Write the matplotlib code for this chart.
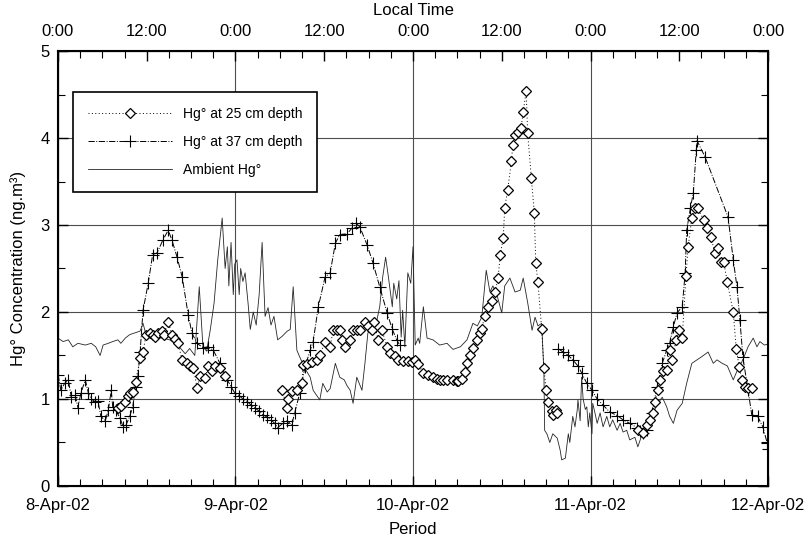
import numpy as np
import matplotlib
matplotlib.use('Agg')
import matplotlib.pyplot as plt
from matplotlib.ticker import MultipleLocator

plt.rcParams['font.family'] = ['Liberation Sans', 'DejaVu Sans']

# hours since 8-Apr-02 0:00
amb_t = [0.0, 0.7, 1.4, 2.0, 2.7, 3.7, 4.5, 5.1, 5.7, 6.1, 6.8, 7.4, 8.1, 8.5, 9.1, 9.7, 10.4, 11.1, 11.5, 11.9,
         12.4, 13.1, 14.1, 15.1, 16.2, 17.2, 17.8, 18.5, 19.1, 19.6, 20.1, 20.6, 21.1, 21.6, 22.2, 22.6, 22.9, 23.1,
         23.4, 23.7, 23.9, 24.2, 24.5, 24.7, 25.0, 25.3, 25.7, 26.0, 26.4, 26.8, 27.2, 27.6, 28.0, 28.4, 28.8, 29.2,
         29.7, 30.3, 31.0, 31.4, 31.8, 32.3, 32.7, 33.4, 34.1, 34.5, 34.9, 35.4, 35.8, 36.4, 36.8, 37.5, 38.1, 38.7,
         39.1, 39.5, 39.9, 40.4, 41.1, 41.5, 41.9, 42.6, 43.1, 43.5, 43.9, 44.3, 44.6, 45.2, 45.4, 45.8, 46.1, 46.4,
         46.6, 46.9, 47.3, 47.7, 48.0, 48.3, 48.7, 48.9, 49.4, 49.9, 50.7, 51.6, 52.6, 53.4, 54.4, 55.3, 56.1, 56.7,
         57.3, 57.9, 58.4, 58.8, 59.4, 60.0, 60.4, 61.1, 61.8, 62.5, 62.9, 63.5, 64.1, 64.5, 64.9, 65.4, 65.7, 65.8,
         66.1, 66.5, 66.9, 67.5, 67.9, 68.1, 68.6, 69.0, 69.2, 69.6, 69.9, 70.2, 70.3, 70.6, 70.8, 71.0, 71.3, 71.5,
         71.7, 71.9, 72.2, 72.3, 72.6, 72.9, 73.3, 73.7, 74.2, 74.6, 75.0, 75.6, 76.0, 76.4, 76.9, 77.3, 78.0, 78.4,
         79.0, 79.6, 80.3, 80.7, 81.1, 81.7, 82.3, 82.7, 83.2, 83.7, 84.4, 85.0, 85.7, 86.4, 87.1, 87.9, 88.6, 89.1,
         89.8, 90.5, 91.3, 91.9, 92.6, 93.3, 94.0, 94.5, 94.9, 95.5, 96.0]
amb_v = [1.70, 1.66, 1.68, 1.60, 1.64, 1.62, 1.64, 1.60, 1.50, 1.62, 1.64, 1.66, 1.68, 1.64, 1.70, 1.74, 1.76, 1.78,
         1.87, 1.74, 1.78, 1.72, 1.70, 1.68, 1.62, 1.52, 1.58, 1.50, 2.29, 1.60, 1.55, 1.80, 2.10, 2.60, 3.08, 2.50,
         2.75, 2.30, 2.80, 2.20, 2.55, 2.60, 2.20, 2.50, 2.35, 2.45, 2.10, 1.80, 2.00, 1.85, 2.20, 2.80, 1.95, 2.05,
         1.85, 1.95, 1.68, 1.72, 1.78, 1.80, 2.29, 1.56, 1.48, 1.35, 1.25, 1.10, 1.05, 0.99, 1.18, 1.08, 1.12, 1.41,
         1.25, 1.22, 1.15, 1.10, 0.95, 1.25, 1.10, 1.41, 1.76, 1.79, 1.90, 2.06, 2.40, 2.63, 2.45, 2.06, 2.33, 2.15,
         2.36, 1.71, 2.02, 1.60, 2.45, 2.33, 2.75, 1.62, 1.70, 1.64, 2.06, 1.70, 1.68, 1.62, 1.64, 1.57, 1.60, 1.68,
         1.87, 1.84, 1.94, 2.48, 2.23, 2.30, 2.18, 1.99, 2.30, 2.39, 2.23, 2.25, 2.39, 2.11, 1.79, 1.94, 1.84, 1.87,
         1.30, 0.64, 0.60, 0.50, 0.60, 0.55, 0.41, 0.30, 0.32, 0.60, 0.50, 0.80, 0.68, 0.87, 0.99, 0.75, 1.25, 1.00,
         0.88, 0.91, 0.68, 0.84, 0.60, 0.95, 0.84, 0.72, 0.84, 0.68, 0.80, 0.68, 0.76, 0.64, 0.72, 0.62, 0.64, 0.53,
         0.56, 0.45, 0.60, 0.68, 0.80, 0.88, 0.95, 1.02, 0.91, 0.80, 0.72, 0.87, 0.95, 1.18, 1.41, 1.45, 1.49, 1.54,
         1.41, 1.45, 1.41, 1.38, 1.22, 1.34, 1.45, 1.60, 1.70, 1.60, 1.66, 1.62, 1.63]

# 37 cm depth (NaN = gap in record)
d37_t = [0.0, 0.4, 0.9, 1.4, 1.8, 2.3, 2.7, 3.1, 3.7, 4.1, 4.5, 5.0, 5.4, 5.8, 6.4, 6.8, 7.2, 7.4, 7.8, 8.4, 8.8,
         9.2, 9.7, 10.1, 10.5, 10.8, 11.1, 11.5, 12.2, 12.8, 13.4, 14.2, 14.9, 15.4, 16.1, 16.8, 17.6, 18.1, 18.8,
         19.6, 20.3, 21.0, 21.9, 22.9, 23.4, 23.9, 24.5, 25.0, 25.6, 26.1, 26.6, 27.2, 27.7, 28.3, 28.8, 29.3, 29.7,
         30.4, 31.0, 31.6, 32.0, 32.7, 33.4, 34.1, 34.5, 35.2, 36.1, 36.8, 37.5, 38.1, 39.1, 39.8, 40.3, 40.8, 41.8,
         42.6, 43.5, 44.5, 45.2, 45.8, 46.2, 57.0,
         67.6, 68.3, 69.0, 69.6, 70.3, 70.8, 71.5, 72.2, 72.9, 73.7, 74.6, 75.6, 76.4, 77.3, 78.3, 78.7, 79.1, 79.6,
         80.3, 81.0, 81.7, 82.3, 82.7, 83.2, 83.7, 84.4, 84.8, 85.0, 85.5, 85.9, 86.3, 86.4, 87.5, 90.6, 91.3, 91.8,
         92.2, 92.6, 93.3, 93.8, 94.6, 95.3, 95.9, 96.0]
d37_v = [1.28, 1.10, 1.18, 1.22, 1.02, 1.05, 0.90, 1.07, 1.22, 1.07, 1.00, 0.97, 0.98, 0.80, 0.75, 0.87, 1.10, 0.91,
         0.87, 0.78, 0.68, 0.70, 0.80, 0.91, 1.14, 1.26, 1.54, 2.02, 2.33, 2.66, 2.68, 2.83, 2.94, 2.83, 2.63, 2.40,
         1.97, 1.76, 1.64, 1.59, 1.60, 1.56, 1.41, 1.22, 1.14, 1.07, 1.04, 1.00, 0.97, 0.93, 0.90, 0.86, 0.82, 0.79,
         0.76, 0.72, 0.67, 0.72, 0.75, 0.70, 0.84, 1.07, 1.37, 1.56, 1.66, 2.06, 2.40, 2.45, 2.79, 2.89, 2.90, 2.97,
         3.02, 2.98, 2.77, 2.56, 2.29, 1.99, 1.80, 1.68, 1.62, np.nan,
         1.58, 1.54, 1.50, 1.45, 1.38, 1.30, 1.18, 1.10, 1.00, 0.93, 0.85, 0.81, 0.76, 0.72, 0.67, 0.63, 0.61, 0.64,
         0.84, 1.14, 1.41, 1.56, 1.64, 1.83, 1.99, 2.06, 2.45, 2.94, 3.19, 3.37, 3.86, 3.97, 3.78, 3.09, 2.60, 2.29,
         1.91, 1.48, 1.10, 0.82, 0.80, 0.68, 0.49, 0.42]

# 25 cm depth (NaN = gap in record)
d25_t = [8.1, 8.5, 9.1, 9.5, 9.7, 10.1, 10.5, 11.1, 11.5, 11.9, 12.4, 12.8, 13.1, 13.5, 14.1, 14.3, 14.9, 15.4, 15.8,
         16.2, 16.8, 17.4, 17.8, 18.3, 18.8, 19.2, 19.9, 20.3, 20.8, 21.2, 21.9, 22.6, 26.0,
         30.3, 31.0, 31.1, 31.6, 32.3, 33.0, 33.1, 33.7, 34.3, 35.0, 35.4, 36.1, 36.8, 37.2, 37.7, 38.1, 38.4, 38.8,
         39.5, 39.9, 40.4, 40.8, 41.5, 41.9, 42.5, 42.7, 43.3, 43.8, 44.5, 44.9, 45.6, 46.0, 46.6, 47.3, 47.9, 48.3,
         48.7, 49.4, 50.0, 50.7, 51.2, 51.6, 52.1, 52.6, 53.4, 53.9, 54.1, 54.6, 55.0, 55.3, 55.7, 56.1, 56.7, 57.1,
         57.3, 57.7, 58.1, 58.7, 59.1, 59.5, 59.8, 60.2, 60.4, 60.8, 61.3, 61.5, 61.8, 62.2, 62.6, 62.9, 63.3, 63.5,
         64.0, 64.4, 64.6, 64.9, 65.4, 65.7, 66.0, 66.3, 66.8, 66.9, 67.3, 67.5, 72.0,
         78.4, 79.1, 79.6, 80.0, 80.5, 80.7, 81.1, 81.4, 81.8, 82.3, 82.7, 83.0, 83.6, 83.9, 84.4, 84.9, 85.2, 85.7,
         86.1, 86.5, 87.3, 87.8, 88.3, 88.8, 89.2, 89.6, 90.0, 90.5, 91.3, 91.7, 92.1, 92.5, 92.9, 93.3, 93.8]
d25_v = [0.90, 0.92, 0.97, 1.03, 1.07, 1.08, 1.20, 1.47, 1.54, 1.74, 1.76, 1.74, 1.71, 1.76, 1.78, 1.74, 1.89, 1.74,
         1.69, 1.64, 1.45, 1.41, 1.38, 1.36, 1.13, 1.26, 1.24, 1.38, 1.32, 1.38, 1.36, 1.26, np.nan,
         1.10, 0.90, 1.00, 1.09, 1.10, 1.18, 1.39, 1.40, 1.42, 1.45, 1.50, 1.66, 1.60, 1.79, 1.79, 1.79, 1.68, 1.60,
         1.68, 1.79, 1.79, 1.79, 1.89, 1.84, 1.79, 1.89, 1.68, 1.79, 1.60, 1.53, 1.49, 1.45, 1.44, 1.44, 1.42, 1.45,
         1.40, 1.30, 1.28, 1.25, 1.23, 1.22, 1.22, 1.22, 1.22, 1.21, 1.21, 1.23, 1.31, 1.41, 1.51, 1.59, 1.68, 1.76,
         1.81, 1.95, 2.06, 2.13, 2.23, 2.39, 2.66, 2.85, 3.20, 3.40, 3.73, 3.92, 4.03, 4.07, 4.11, 4.30, 4.54, 4.06,
         3.54, 3.14, 2.56, 2.34, 1.80, 1.36, 1.10, 0.97, 0.86, 0.82, 0.87, 0.84, np.nan,
         0.64, 0.61, 0.70, 0.76, 0.84, 0.97, 1.10, 1.22, 1.32, 1.33, 1.56, 1.45, 1.68, 1.79, 1.70, 2.41, 2.75, 3.08,
         3.19, 3.19, 3.06, 2.96, 2.86, 2.68, 2.73, 2.58, 2.58, 2.34, 2.00, 1.58, 1.37, 1.22, 1.14, 1.13, 1.13]

day_labels = ['8-Apr-02', '9-Apr-02', '10-Apr-02', '11-Apr-02', '12-Apr-02']
time_labels = ['0:00', '12:00', '0:00', '12:00', '0:00', '12:00', '0:00', '12:00', '0:00']

fig = plt.figure(figsize=(8.11, 5.41), dpi=100)
ax = fig.add_axes([0.0715, 0.1017, 0.8755, 0.804])

ax.plot(d25_t, d25_v, color='black', lw=0.7, ls=(0, (1, 2.5)), marker='D', ms=5,
        mfc='white', mec='black', mew=0.9, label='Hg° at 25 cm depth', zorder=4)
ax.plot(d37_t, d37_v, color='black', lw=0.7, ls='-.', marker='+', ms=8,
        mew=0.8, label='Hg° at 37 cm depth', zorder=3)
ax.plot(amb_t, amb_v, color='0.15', lw=0.6, label='Ambient Hg°', zorder=2)

ax.set_xlim(0, 96)
ax.set_ylim(0, 5)
ax.set_xticks(np.arange(0, 97, 24))
ax.set_xticklabels(day_labels)
ax.xaxis.set_minor_locator(MultipleLocator(3))
ax.yaxis.set_major_locator(MultipleLocator(1))
ax.yaxis.set_minor_locator(MultipleLocator(0.5))
ax.tick_params(which='both', direction='in', right=True, labelsize=12)
ax.tick_params(axis='x', pad=9)
ax.tick_params(axis='y', pad=6)
ax.tick_params(which='major', length=7, width=1)
ax.tick_params(which='minor', length=5, width=0.8)
ax.grid(True, which='major', color='0.3', lw=0.8)
for s in ax.spines.values():
    s.set_linewidth(1.5)

ax.set_xlabel('Period', fontsize=12, labelpad=6)
ax.set_ylabel('Hg° Concentration (ng.m³)', fontsize=12, labelpad=10)

top = ax.twiny()
top.set_xlim(0, 96)
top.set_xticks(np.arange(0, 97, 12))
top.set_xticklabels(time_labels)
top.xaxis.set_minor_locator(MultipleLocator(3))
top.tick_params(which='both', direction='in', labelsize=12, pad=9)
top.tick_params(which='major', length=7, width=1)
top.tick_params(which='minor', length=5, width=0.8)
top.set_xlabel('Local Time', fontsize=12, labelpad=6)

leg = ax.legend(loc='upper left', bbox_to_anchor=(0.021, 0.906), borderaxespad=0,
                fontsize=10, handlelength=6.0, handletextpad=0.8, fancybox=False,
                framealpha=1, edgecolor='black', borderpad=1.1, labelspacing=1.0)
leg.get_frame().set_linewidth(1.2)

plt.savefig('out.png', dpi=100)
